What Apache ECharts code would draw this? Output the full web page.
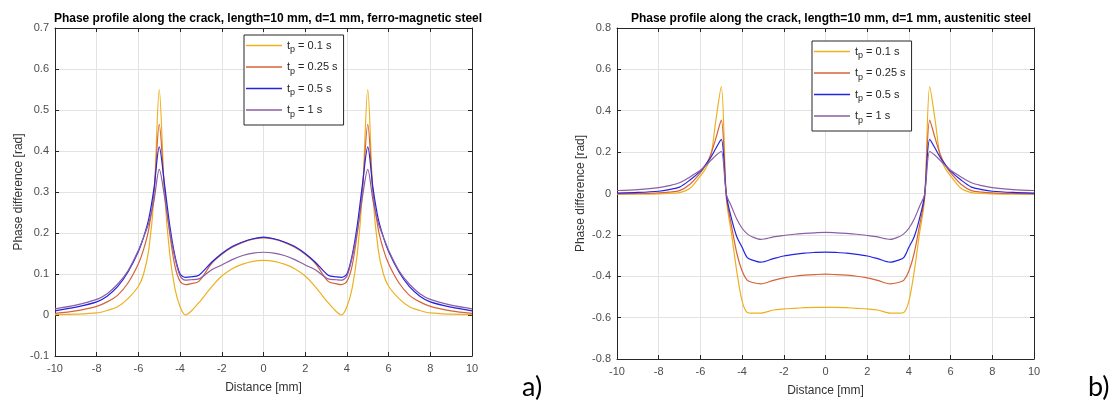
<!DOCTYPE html>
<html>
<head>
<meta charset="utf-8">
<script src="https://cdn.jsdelivr.net/npm/echarts@6/dist/echarts.min.js"></script>
<style>
    html, body { margin: 0; padding: 0; background: #fff; }
    #main { width: 1117px; height: 406px; }
</style>
</head>
<body>
<div id="main"></div>
<script>
    // distance along the crack [mm]
    var distance = [-10, -9, -8, -7.5, -7, -6.5, -6, -5.75, -5.5, -5.25, -5, -4.75, -4.5, -4.25, -4, -3.75, -3.5, -3.1, -2.5, -2, -1.5, -1, -0.5,
        0, 0.5, 1, 1.5, 2, 2.5, 3.1, 3.5, 3.75, 4, 4.25, 4.5, 4.75, 5, 5.25, 5.5, 5.75, 6, 6.5, 7, 7.5, 8, 9, 10];
    var pulseNames = ['0.1 s', '0.25 s', '0.5 s', '1 s'];
    var lineColors = ['#EDB120', '#D5643A', '#2424E0', '#8A5FA3'];

    // a) ferro-magnetic steel, phase difference [rad]
    var ferro01 = [0.001, 0.002, 0.005, 0.011, 0.02, 0.04, 0.07, 0.1, 0.16, 0.29, 0.55, 0.3, 0.15, 0.065, 0.02, 0.0, 0.008, 0.03, 0.068, 0.095, 0.113, 0.124, 0.131,
        0.133, 0.131, 0.124, 0.113, 0.095, 0.068, 0.03, 0.008, 0.0, 0.02, 0.065, 0.15, 0.3, 0.55, 0.29, 0.16, 0.1, 0.07, 0.04, 0.02, 0.011, 0.005, 0.002, 0.001];
    var ferro025 = [0.004, 0.01, 0.021, 0.032, 0.048, 0.078, 0.125, 0.16, 0.21, 0.3, 0.465, 0.31, 0.2, 0.12, 0.082, 0.074, 0.076, 0.082, 0.125, 0.148, 0.165, 0.177, 0.185,
        0.188, 0.185, 0.177, 0.165, 0.148, 0.125, 0.082, 0.076, 0.074, 0.082, 0.12, 0.2, 0.31, 0.465, 0.3, 0.21, 0.16, 0.125, 0.078, 0.048, 0.032, 0.021, 0.01, 0.004];
    var ferro05 = [0.01, 0.019, 0.032, 0.046, 0.069, 0.105, 0.155, 0.19, 0.235, 0.31, 0.41, 0.32, 0.22, 0.145, 0.1, 0.092, 0.093, 0.097, 0.128, 0.15, 0.167, 0.178, 0.186,
        0.19, 0.186, 0.178, 0.167, 0.15, 0.128, 0.097, 0.093, 0.092, 0.1, 0.145, 0.22, 0.32, 0.41, 0.31, 0.235, 0.19, 0.155, 0.105, 0.069, 0.046, 0.032, 0.019, 0.01];
    var ferro1 = [0.015, 0.024, 0.038, 0.052, 0.075, 0.108, 0.158, 0.19, 0.225, 0.28, 0.355, 0.29, 0.205, 0.14, 0.095, 0.085, 0.086, 0.088, 0.11, 0.122, 0.135, 0.145, 0.151,
        0.153, 0.151, 0.145, 0.135, 0.122, 0.11, 0.088, 0.086, 0.085, 0.095, 0.14, 0.205, 0.29, 0.355, 0.28, 0.225, 0.19, 0.158, 0.108, 0.075, 0.052, 0.038, 0.024, 0.015];

    // b) austenitic steel, phase difference [rad]
    var aust01 = [-0.003, -0.003, -0.002, 0.0, 0.004, 0.025, 0.085, 0.12, 0.18, 0.36, 0.517, -0.03, -0.2, -0.38, -0.52, -0.575, -0.578, -0.578, -0.563, -0.558, -0.555, -0.552, -0.55,
        -0.55, -0.55, -0.552, -0.555, -0.558, -0.563, -0.578, -0.578, -0.575, -0.52, -0.38, -0.2, -0.03, 0.517, 0.36, 0.18, 0.12, 0.085, 0.025, 0.004, 0.0, -0.002, -0.003, -0.003];
    var aust025 = [-0.002, 0.0, 0.003, 0.007, 0.014, 0.045, 0.1, 0.135, 0.19, 0.27, 0.355, -0.02, -0.16, -0.29, -0.375, -0.42, -0.43, -0.437, -0.42, -0.408, -0.4, -0.395, -0.392,
        -0.39, -0.392, -0.395, -0.4, -0.408, -0.42, -0.437, -0.43, -0.42, -0.375, -0.29, -0.16, -0.02, 0.355, 0.27, 0.19, 0.135, 0.1, 0.045, 0.014, 0.007, 0.003, 0.0, -0.002];
    var aust05 = [0.002, 0.005, 0.011, 0.019, 0.031, 0.065, 0.108, 0.14, 0.175, 0.22, 0.262, -0.01, -0.125, -0.21, -0.26, -0.31, -0.322, -0.332, -0.315, -0.302, -0.294, -0.288, -0.285,
        -0.283, -0.285, -0.288, -0.294, -0.302, -0.315, -0.332, -0.322, -0.31, -0.26, -0.21, -0.125, -0.01, 0.262, 0.22, 0.175, 0.14, 0.108, 0.065, 0.031, 0.019, 0.011, 0.005, 0.002];
    var aust1 = [0.0145, 0.019, 0.028, 0.038, 0.052, 0.08, 0.112, 0.135, 0.16, 0.185, 0.203, -0.005, -0.065, -0.125, -0.168, -0.195, -0.21, -0.222, -0.21, -0.203, -0.197, -0.193, -0.19,
        -0.188, -0.19, -0.193, -0.197, -0.203, -0.21, -0.222, -0.21, -0.195, -0.168, -0.125, -0.065, -0.005, 0.203, 0.185, 0.16, 0.135, 0.112, 0.08, 0.052, 0.038, 0.028, 0.019, 0.0145];

    var fontName = 'Liberation Sans';

    function pairs (values) {
        return distance.map(function (d, i) {
            return [d, values[i]];
        });
    }

    function mainX (gridIndex) {
        return {
            type: 'value', gridIndex: gridIndex, min: -10, max: 10, interval: 2,
            name: 'Distance [mm]', nameLocation: 'middle', nameGap: 26,
            nameTextStyle: {fontFamily: fontName, fontSize: 12, color: '#333'},
            axisLine: {onZero: false, lineStyle: {color: '#262626'}},
            axisTick: {inside: true, length: 4, lineStyle: {color: '#262626'}},
            axisLabel: {fontFamily: fontName, fontSize: 11, color: '#4d4d4d', margin: 7},
            splitLine: {show: true, lineStyle: {color: '#e3e3e3'}}
        };
    }

    function frameX (gridIndex) {
        return {
            type: 'value', gridIndex: gridIndex, min: -10, max: 10, interval: 2, position: 'top',
            axisLine: {onZero: false, lineStyle: {color: '#262626'}},
            axisTick: {inside: true, length: 4, lineStyle: {color: '#262626'}},
            axisLabel: {show: false},
            splitLine: {show: false}
        };
    }

    function mainY (gridIndex, min, max, step) {
        return {
            type: 'value', gridIndex: gridIndex, min: min, max: max, interval: step,
            name: 'Phase difference [rad]', nameLocation: 'middle', nameGap: 30,
            nameTextStyle: {fontFamily: fontName, fontSize: 12, color: '#333'},
            axisLine: {show: true, onZero: false, lineStyle: {color: '#262626'}},
            axisTick: {show: true, inside: true, length: 4, lineStyle: {color: '#262626'}},
            axisLabel: {fontFamily: fontName, fontSize: 11, color: '#4d4d4d', margin: 6},
            splitLine: {show: true, lineStyle: {color: '#e3e3e3'}}
        };
    }

    function frameY (gridIndex, min, max, step) {
        return {
            type: 'value', gridIndex: gridIndex, min: min, max: max, interval: step, position: 'right',
            axisLine: {show: true, onZero: false, lineStyle: {color: '#262626'}},
            axisTick: {show: true, inside: true, length: 4, lineStyle: {color: '#262626'}},
            axisLabel: {show: false},
            splitLine: {show: false}
        };
    }

    function makeSeries (lists, axisIndex) {
        return lists.map(function (values, i) {
            return {
                name: pulseNames[i],
                type: 'line',
                xAxisIndex: axisIndex,
                yAxisIndex: axisIndex,
                data: pairs(values),
                symbol: 'none',
                smooth: 0.3,
                color: lineColors[i],
                lineStyle: {width: 1.2, color: lineColors[i]},
                animation: false
            };
        });
    }

    function makeLegend (left, top) {
        return {
            orient: 'vertical',
            left: left,
            top: top,
            data: pulseNames,
            icon: 'rect',
            backgroundColor: '#fff',
            borderColor: '#262626',
            borderWidth: 1,
            borderRadius: 0,
            padding: [5, 6, 6, 2],
            itemWidth: 36,
            itemHeight: 1.3,
            itemGap: 7,
            selectedMode: false,
            formatter: function (name) {
                return '{t|t}{p|p}{t| = ' + name + '}';
            },
            textStyle: {
                fontFamily: fontName,
                color: '#262626',
                fontSize: 11,
                rich: {
                    t: {fontFamily: fontName, fontSize: 11, color: '#262626'},
                    p: {fontFamily: fontName, fontSize: 9, color: '#262626', padding: [9, 0, 0, 0]}
                }
            }
        };
    }

    var myChart = echarts.init(document.getElementById('main'), null, {renderer: 'canvas'});

    var option = {
        backgroundColor: '#fff',
        animation: false,
        title: [
            {
                text: 'Phase profile along the crack, length=10 mm, d=1 mm, ferro-magnetic steel',
                left: 263, top: 8, textAlign: 'center',
                textStyle: {fontFamily: fontName, fontSize: 12, fontWeight: 'bold', color: '#000'}
            },
            {
                text: 'Phase profile along the crack, length=10 mm, d=1 mm, austenitic steel',
                left: 826, top: 8, textAlign: 'center',
                textStyle: {fontFamily: fontName, fontSize: 12, fontWeight: 'bold', color: '#000'}
            }
        ],
        grid: [
            {left: 55, top: 28, width: 417, height: 328},
            {left: 617, top: 28, width: 417, height: 331}
        ],
        xAxis: [mainX(0), mainX(1), frameX(0), frameX(1)],
        yAxis: [mainY(0, -0.1, 0.7, 0.1), mainY(1, -0.8, 0.8, 0.2), frameY(0, -0.1, 0.7, 0.1), frameY(1, -0.8, 0.8, 0.2)],
        legend: [makeLegend(244, 35), makeLegend(812, 41)],
        series: makeSeries([ferro01, ferro025, ferro05, ferro1], 0)
            .concat(makeSeries([aust01, aust025, aust05, aust1], 1)),
        graphic: [
            {type: 'text', left: 522, top: 374, style: {text: 'a)', font: '27px Lato', fill: '#000'}},
            {type: 'text', left: 1088, top: 374, style: {text: 'b)', font: '27px Lato', fill: '#000'}}
        ]
    };

    myChart.setOption(option);
</script>
</body>
</html>
